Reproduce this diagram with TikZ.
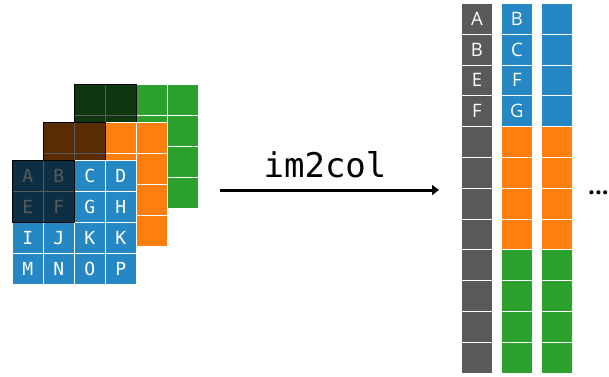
\documentclass[tikz,border=0pt]{standalone}
\usepackage{fontspec}
\setmonofont{DejaVu Sans Mono}
\newfontfamily\colfont{Open Sans}
\usetikzlibrary{arrows.meta}
\definecolor{cblue}{HTML}{2587C4}
\definecolor{corange}{HTML}{FF7F0E}
\definecolor{cgreen}{HTML}{2CA02C}
\definecolor{cgray}{HTML}{5A5A5A}
\begin{document}
\begin{tikzpicture}[x=1pt,y=-1pt,
  cell/.style={draw=white, line width=0.8pt, minimum width=31pt, minimum height=31pt,
    inner sep=0pt, anchor=north west, text=white, text height=13pt, text depth=0pt,
    font=\ttfamily\fontsize{18}{18}\selectfont},
  colcell/.style={cell, minimum height=30.8pt, text height=12.9pt,
    font=\colfont\fontsize{18.5}{18.5}\selectfont},
  window/.style={draw=black, fill=black, fill opacity=0.65, line width=1pt,
    minimum width=62pt, minimum height=62pt, anchor=north west, inner sep=0pt},
  conv/.style={line width=3pt, -{Triangle[length=7pt,width=10pt]}}]
\useasboundingbox (0,0) rectangle (609,376);
% green layer (back)
\foreach \r in {0,...,3}{\foreach \c in {0,...,3}{
  \node[cell, fill=cgreen] (g-\r-\c) at (74+31*\c, 84+31*\r) {};}}
\node[window] (gw) at (74,84) {};
% orange layer
\foreach \r in {0,...,3}{\foreach \c in {0,...,3}{
  \node[cell, fill=corange] (o-\r-\c) at (43+31*\c, 122+31*\r) {};}}
\node[window] (ow) at (43,122) {};
% blue layer (front)
\foreach \t [count=\i from 0] in {A,B,C,D,E,F,G,H,I,J,K,K,M,N,O,P}{
  \pgfmathtruncatemacro\r{\i/4}
  \pgfmathtruncatemacro\c{mod(\i,4)}
  \node[cell, fill=cblue] (b-\r-\c) at (12+31*\c, 160+31*\r) {\t};}
\node[window] (bw) at (12,160) {};
% arrow
\coordinate (as) at (220,190);
\coordinate (ae) at (439,190);
\draw[conv] (as) -- (ae);
\node[font=\ttfamily\fontsize{34}{34}\selectfont, anchor=base] (lbl) at (325,177) {im2col};
% columns
\foreach \t [count=\i from 0] in {A,B,E,F}{
  \node[colcell, fill=cgray] (k1-\i) at (461, 3+30.8*\i) {\t};}
\foreach \i in {4,...,11}{
  \node[colcell, fill=cgray] (k1-\i) at (461, 3+30.8*\i) {};}
\foreach \t [count=\i from 0] in {B,C,F,G}{
  \node[colcell, fill=cblue] (k2-\i) at (501, 3+30.8*\i) {\t};
  \node[colcell, fill=cblue] (k3-\i) at (541, 3+30.8*\i) {};}
\foreach \i in {4,...,7}{
  \node[colcell, fill=corange] (k2-\i) at (501, 3+30.8*\i) {};
  \node[colcell, fill=corange] (k3-\i) at (541, 3+30.8*\i) {};}
\foreach \i in {8,...,11}{
  \node[colcell, fill=cgreen] (k2-\i) at (501, 3+30.8*\i) {};
  \node[colcell, fill=cgreen] (k3-\i) at (541, 3+30.8*\i) {};}
\node[font=\colfont\bfseries\fontsize{24}{24}\selectfont, anchor=base, inner sep=0pt] (dots) at (598.5,194) {...};
\end{tikzpicture}
\end{document}
